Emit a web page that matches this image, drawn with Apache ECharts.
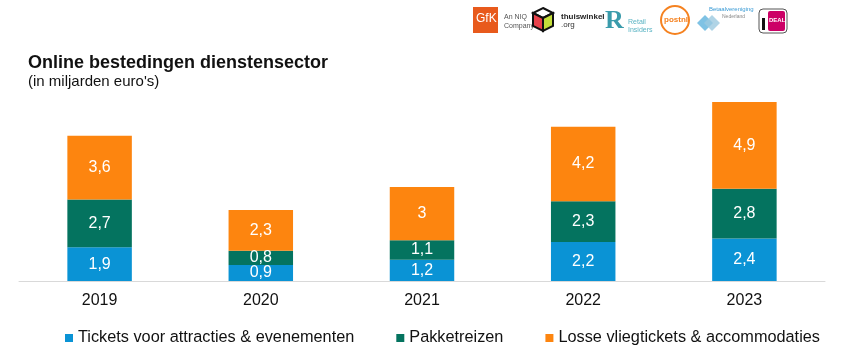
<!DOCTYPE html>
<html>
<head>
<meta charset="utf-8">
<script src="https://cdn.jsdelivr.net/npm/echarts@6/dist/echarts.min.js"></script>
<style>
  html, body { margin: 0; padding: 0; background: #fff; }
  #main { width: 847px; height: 354px; }
</style>
</head>
<body>
<div id="main"></div>
<script>
// data
var years = ['2019', '2020', '2021', '2022', '2023'];
var tickets = [1.9, 0.9, 1.2, 2.2, 2.4];
var pakket = [2.7, 0.8, 1.1, 2.3, 2.8];
var losse = [3.6, 2.3, 3, 4.2, 4.9];
var seriesNames = ['Tickets voor attracties & evenementen', 'Pakketreizen', 'Losse vliegtickets & accommodaties'];
var colors = ['#0a93d5', '#04735f', '#fd850f'];

var chart = echarts.init(document.getElementById('main'));

function fmt(p) {
    return String(p.value).replace('.', ',');
}

function makeSeries(name, data, color) {
    return {
        name: name,
        type: 'bar',
        stack: 'total',
        data: data,
        barWidth: '40%',
        itemStyle: { color: color },
        label: {
            show: true,
            color: '#fff',
            fontSize: 16,
            fontFamily: 'Liberation Sans, Arial',
            formatter: fmt
        }
    };
}

// rough logo strip in the top right
var logos = [
    { type: 'rect', shape: { x: 473, y: 7, width: 25, height: 26 }, style: { fill: '#e85a1c' } },
    { type: 'text', x: 476, y: 13, style: { text: 'GfK', fill: '#fff', font: '12px Liberation Sans' } },
    { type: 'text', x: 504, y: 13, style: { text: 'An NIQ\nCompany', fill: '#555', font: '7px Liberation Sans', lineHeight: 9 } },
    { type: 'polygon', shape: { points: [[543, 8], [553, 13], [543, 18], [533, 13]] }, style: { fill: '#fff', stroke: '#111', lineWidth: 2 } },
    { type: 'polygon', shape: { points: [[533, 13], [543, 18], [543, 31], [533, 26]] }, style: { fill: '#e8414b', stroke: '#111', lineWidth: 2 } },
    { type: 'polygon', shape: { points: [[543, 18], [553, 13], [553, 26], [543, 31]] }, style: { fill: '#c4de3a', stroke: '#111', lineWidth: 2 } },
    { type: 'text', x: 561, y: 13, style: { text: 'thuiswinkel', fill: '#222', font: 'bold 8px Liberation Sans' } },
    { type: 'text', x: 561, y: 21, style: { text: '.org', fill: '#333', font: '8px Liberation Sans' } },
    { type: 'text', x: 605, y: 8, style: { text: 'R', fill: '#3a9bab', font: 'bold 26px Liberation Serif' } },
    { type: 'text', x: 628, y: 18, style: { text: 'Retail\nInsiders', fill: '#5bb4c4', font: '7px Liberation Sans', lineHeight: 8 } },
    { type: 'ellipse', shape: { cx: 675, cy: 20, rx: 14, ry: 14 }, style: { fill: '#fff', stroke: '#f58220', lineWidth: 2 } },
    { type: 'text', x: 664, y: 16, style: { text: 'postnl', fill: '#f58220', font: 'bold 8px Liberation Sans' } },
    { type: 'polygon', shape: { points: [[705, 15], [713, 23], [705, 31], [697, 23]] }, style: { fill: '#5fb3dd', opacity: 0.8 } },
    { type: 'polygon', shape: { points: [[712, 15], [720, 23], [712, 31], [704, 23]] }, style: { fill: '#9cc9e0', opacity: 0.8 } },
    { type: 'text', x: 709, y: 6, style: { text: 'Betaalvereniging', fill: '#3a9bd5', font: '6px Liberation Sans' } },
    { type: 'text', x: 722, y: 14, style: { text: 'Nederland', fill: '#888', font: '5px Liberation Sans' } },
    { type: 'rect', shape: { x: 759, y: 9, width: 28, height: 24, r: 4 }, style: { fill: '#fff', stroke: '#555', lineWidth: 1 } },
    { type: 'rect', shape: { x: 768, y: 11, width: 17, height: 20, r: 2 }, style: { fill: '#cc0066' } },
    { type: 'text', x: 769, y: 17, style: { text: 'DEAL', fill: '#fff', font: 'bold 6px Liberation Sans' } },
    { type: 'rect', shape: { x: 762, y: 18, width: 3, height: 12 }, style: { fill: '#111' } }
];

var option = {
    backgroundColor: '#fff',
    animation: false,
    title: {
        text: 'Online bestedingen dienstensector',
        subtext: "(in miljarden euro's)",
        left: 23,
        top: 49,
        itemGap: 2,
        textStyle: { fontSize: 18, fontWeight: 'bold', color: '#111', fontFamily: 'Liberation Sans, Arial' },
        subtextStyle: { fontSize: 15, color: '#111', fontFamily: 'Liberation Sans, Arial' }
    },
    graphic: logos,
    legend: {
        data: seriesNames,
        left: 60,
        top: 325,
        itemWidth: 8,
        itemHeight: 8,
        itemGap: 42,
        icon: 'rect',
        textStyle: { fontSize: 16.3, color: '#111', fontFamily: 'Liberation Sans, Arial' }
    },
    grid: {
        left: 19,
        right: 22,
        top: 86,
        bottom: 73
    },
    xAxis: {
        type: 'category',
        data: years,
        axisLine: { lineStyle: { color: '#d9d9d9', width: 1 } },
        axisTick: { show: false },
        axisLabel: { fontSize: 16, color: '#111', margin: 12, fontFamily: 'Liberation Sans, Arial' }
    },
    yAxis: {
        type: 'value',
        min: 0,
        max: 11,
        show: false,
        splitLine: { show: false }
    },
    series: [
        makeSeries(seriesNames[0], tickets, colors[0]),
        makeSeries(seriesNames[1], pakket, colors[1]),
        makeSeries(seriesNames[2], losse, colors[2])
    ]
};

chart.setOption(option);
</script>
</body>
</html>
